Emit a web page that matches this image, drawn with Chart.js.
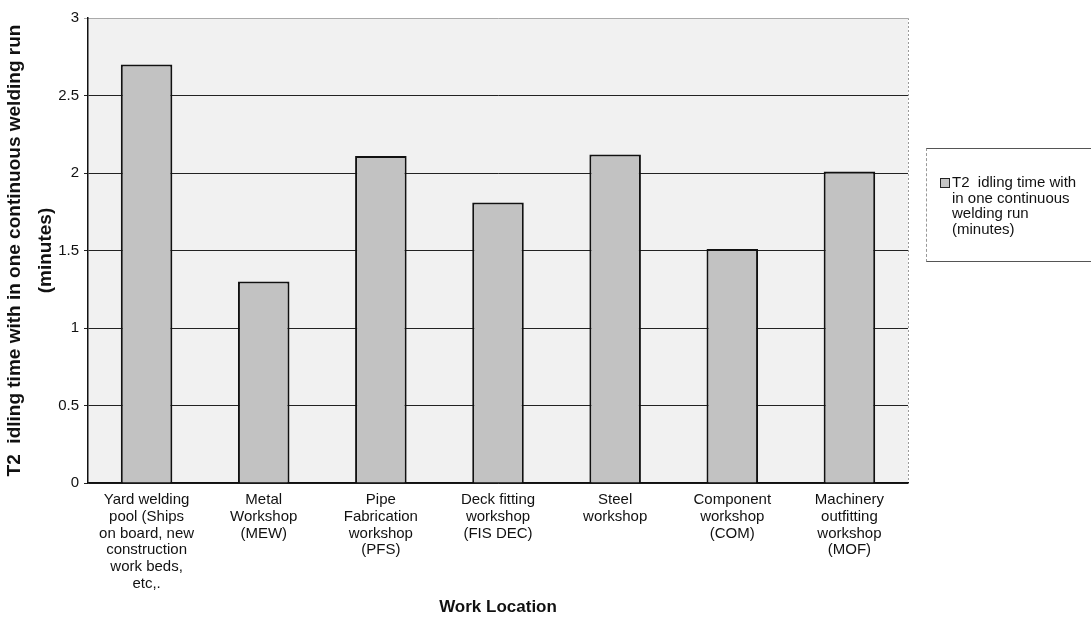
<!DOCTYPE html>
<html>
<head>
<meta charset="utf-8">
<script src="https://cdn.jsdelivr.net/npm/chart.js@4.4.1/dist/chart.umd.min.js"></script>
<style>
  html, body { margin: 0; padding: 0; background: #fff; }
  #wrap { position: relative; width: 1091px; height: 625px; }
  canvas { position: absolute; left: 0; top: 0; }
  #legend {
    position: absolute; left: 926px; top: 148px; width: 165px; height: 114px;
    border-top: 1px solid #555; border-bottom: 1px solid #555; border-left: 1px dashed #999;
    box-sizing: border-box;
    font-family: "Liberation Sans", Arial, sans-serif; font-size: 15px; line-height: 15.5px; color: #111;
  }
  #legend .sw {
    position: absolute; left: 13px; top: 29px; width: 8px; height: 8px;
    background: #c4c4c4; border: 1px solid #222;
  }
  #legend .tx { position: absolute; left: 25px; top: 25px; white-space: nowrap; }
</style>
</head>
<body>
<div id="wrap">
  <canvas id="c" width="1091" height="625"></canvas>
  <div id="legend"><div class="sw"></div><div class="tx">T2&nbsp; idling time with<br>in one continuous<br>welding run<br>(minutes)</div></div>
</div>
<script>
const categories = [
  ["Yard welding", "pool (Ships", "on board, new", "construction", "work beds,", "etc,."],
  ["Metal", "Workshop", "(MEW)"],
  ["Pipe", "Fabrication", "workshop", "(PFS)"],
  ["Deck fitting", "workshop", "(FIS DEC)"],
  ["Steel", "workshop"],
  ["Component", "workshop", "(COM)"],
  ["Machinery", "outfitting", "workshop", "(MOF)"]
];
const seriesName = "T2  idling time with in one continuous welding run (minutes)";
const idlingTime = [2.70, 1.30, 2.11, 1.81, 2.12, 1.51, 2.01];
const yTicks = [0, 0.5, 1, 1.5, 2, 2.5, 3];
const yTitle = ["T2  idling time with in one continuous welding run", "(minutes)"];
const xTitle = "Work Location";

const FONT = "'Liberation Sans', Arial, sans-serif";

const areaPlugin = {
  id: 'areaBg',
  beforeDraw(chart) {
    const {ctx, chartArea: a} = chart;
    ctx.save();
    ctx.fillStyle = '#f1f1f1';
    ctx.fillRect(a.left, a.top, a.right - a.left, a.bottom - a.top);
    ctx.strokeStyle = '#9a9a9a';
    ctx.lineWidth = 1;
    ctx.setLineDash([2, 2]);
    ctx.beginPath();
    ctx.moveTo(a.left, a.top + 0.5);
    ctx.lineTo(a.right + 0.5, a.top + 0.5);
    ctx.lineTo(a.right + 0.5, a.bottom);
    ctx.stroke();
    ctx.restore();
  }
};

new Chart(document.getElementById('c'), {
  type: 'bar',
  data: {
    labels: categories,
    datasets: [{
      label: seriesName,
      data: idlingTime,
      backgroundColor: '#c2c2c2',
      borderColor: '#111',
      borderWidth: 2,
      barPercentage: 0.44,
      categoryPercentage: 1.0
    }]
  },
  options: {
    responsive: false,
    animation: false,
    devicePixelRatio: 1,
    layout: { padding: { left: 0, right: 183, top: 18, bottom: 0 } },
    plugins: { legend: { display: false }, tooltip: { enabled: false } },
    scales: {
      x: {
        grid: { display: false, drawTicks: false },
        border: { display: true, color: '#111', width: 1.5 },
        ticks: {
          color: '#111', font: { family: FONT, size: 15, lineHeight: 1.13 },
          padding: 8, maxRotation: 0, autoSkip: false
        },
        title: {
          display: true, text: xTitle, color: '#111',
          font: { family: FONT, size: 17, weight: 'bold', lineHeight: 1.2 },
          padding: { top: 0, bottom: 7 }
        },
        afterFit(s) { s.height = 142; }
      },
      y: {
        min: 0, max: 3,
        afterBuildTicks(s) { s.ticks = yTicks.map(v => ({ value: v })); },
        grid: {
          color: c => (c.tick && c.tick.value === 3 ? '#aaa' : '#222'),
          lineWidth: 1, drawTicks: true, tickLength: 4
        },
        border: { display: true, color: '#111', width: 1.5 },
        ticks: {
          color: '#111', font: { family: FONT, size: 15 }, padding: 5,
          callback: v => String(v)
        },
        title: {
          display: true, text: yTitle, color: '#111',
          font: { family: FONT, size: 19, weight: 'bold', lineHeight: 1.6 },
          padding: { top: 0, bottom: 0 }
        },
        afterFit(s) { s.width = 88; }
      }
    }
  },
  plugins: [areaPlugin]
});
</script>
</body>
</html>
